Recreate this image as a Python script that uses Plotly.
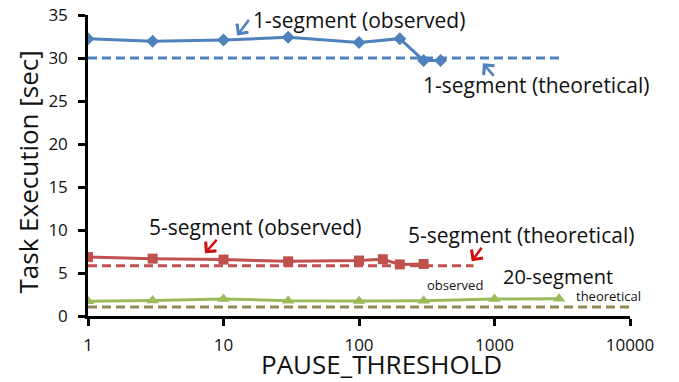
import plotly.graph_objects as go

# Data
x_seg1 = [1, 3, 10, 30, 100, 200, 300, 400]
y_seg1 = [32.25, 31.95, 32.1, 32.4, 31.8, 32.25, 29.7, 29.7]
x_seg1_theo = [1, 3000]
y_seg1_theo = [30, 30]

x_seg5 = [1, 3, 10, 30, 100, 150, 200, 300]
y_seg5 = [6.85, 6.67, 6.56, 6.36, 6.45, 6.6, 6.0, 6.05]
x_seg5_theo = [1, 700]
y_seg5_theo = [5.85, 5.85]

x_seg20 = [1, 3, 10, 30, 100, 300, 1000, 3000]
y_seg20 = [1.72, 1.8, 1.98, 1.78, 1.75, 1.78, 1.98, 2.0]
x_seg20_theo = [1, 10000]
y_seg20_theo = [1.05, 1.05]

x_ticks = [1, 10, 100, 1000, 10000]
x_tick_labels = ["1", "10", "100", "1000", "10000"]
y_ticks = [0, 5, 10, 15, 20, 25, 30, 35]

BLUE = "#4F81BD"
RED = "#C0504D"
GREEN = "#9BBB59"
OLIVE = "#948A54"
ARROW_RED = "#D01010"
FONT = "Open Sans"
DASH = "9px,5px"

# page offset (body margin) compensation
OFF = 8
L, R, T, B = 88 - OFF, 679 - 630 + OFF, 15 - OFF, 382 - 316 + OFF
PW, PH = 679 - L - R, 382 - T - B

fig = go.Figure()
fig.add_trace(go.Scatter(x=x_seg1_theo, y=y_seg1_theo, mode="lines",
                         line=dict(color=BLUE, width=3, dash=DASH)))
fig.add_trace(go.Scatter(x=x_seg1, y=y_seg1, mode="lines+markers",
                         line=dict(color=BLUE, width=3),
                         marker=dict(symbol="diamond", size=10, color=BLUE)))
fig.add_trace(go.Scatter(x=x_seg5_theo, y=y_seg5_theo, mode="lines",
                         line=dict(color=RED, width=3, dash=DASH)))
fig.add_trace(go.Scatter(x=x_seg5, y=y_seg5, mode="lines+markers",
                         line=dict(color=RED, width=3),
                         marker=dict(symbol="square", size=10, color=RED)))
fig.add_trace(go.Scatter(x=x_seg20_theo, y=y_seg20_theo, mode="lines",
                         line=dict(color=OLIVE, width=3, dash=DASH)))
fig.add_trace(go.Scatter(x=x_seg20, y=y_seg20, mode="lines+markers",
                         line=dict(color=GREEN, width=3),
                         marker=dict(symbol="triangle-up", size=11, color=GREEN)))

annotations = []

def text_ann(text, x, y, size):
    annotations.append(dict(text=text, x=x, y=y, xref="x", yref="y",
                            xanchor="left", yanchor="middle", showarrow=False,
                            borderpad=0,
                            font=dict(family=FONT, size=size, color="#111111")))

def arrow_ann(x, y, ax, ay, color):
    annotations.append(dict(text="", x=x, y=y, xref="x", yref="y",
                            ax=ax, ay=ay, showarrow=True, arrowhead=4,
                            arrowsize=1.1, arrowwidth=2.5, arrowcolor=color,
                            standoff=0))

text_ann("1-segment (observed)", 1.21, 34.45, 21)
text_ann("1-segment (theoretical)", 2.465, 26.9, 21)
text_ann("5-segment (observed)", 0.443, 10.35, 21)
text_ann("5-segment (theoretical)", 2.354, 9.38, 21)
text_ann("observed", 2.494, 3.57, 13)
text_ann("20-segment", 3.055, 4.6, 20)
text_ann("theoretical", 3.594, 2.33, 13)

arrow_ann(1.1, 32.63, 13, -17, BLUE)
arrow_ann(2.915, 29.38, 12, 14, BLUE)
arrow_ann(0.863, 7.29, 13, -15, ARROW_RED)
arrow_ann(2.832, 6.36, 11, -15, ARROW_RED)

# axis titles (positions in screen pixels converted to paper coords)
def px_to_paper(px, py):
    return (px - OFF - L) / PW, (382 - B - (py - OFF)) / PH

tx, ty = px_to_paper(27, 172.5)
annotations.append(dict(text="Task Execution [sec]", xref="paper", yref="paper",
                        x=tx, y=ty, textangle=-90, borderpad=0,
                        xanchor="center", yanchor="middle", showarrow=False,
                        font=dict(family=FONT, size=26, color="#111111")))
tx, ty = px_to_paper(381, 364)
annotations.append(dict(text="PAUSE_THRESHOLD", xref="paper", yref="paper",
                        x=tx, y=ty, borderpad=0,
                        xanchor="center", yanchor="middle", showarrow=False,
                        font=dict(family=FONT, size=26, color="#111111")))

fig.update_layout(
    width=679, height=382,
    margin=dict(l=L, r=R, t=T, b=B, autoexpand=False),
    paper_bgcolor="white", plot_bgcolor="white",
    showlegend=False,
    font=dict(family=FONT, color="#111111"),
    annotations=annotations,
)
fig.update_xaxes(type="log", range=[0, 4], tickvals=x_ticks, ticktext=x_tick_labels,
                 showline=True, linecolor="black", linewidth=2.5, ticks="outside",
                 ticklen=7, tickwidth=2.5, tickcolor="black", showgrid=False,
                 zeroline=False, automargin=False, ticklabelstandoff=5,
                 ticklabeloverflow="allow",
                 tickfont=dict(family=FONT, size=17, color="#111111"))
fig.update_yaxes(range=[0, 35], tickvals=y_ticks, showline=True, linecolor="black",
                 linewidth=2.5, ticks="outside", ticklen=7, tickwidth=2.5,
                 tickcolor="black", showgrid=False, zeroline=False, automargin=False,
                 ticklabelstandoff=7, ticklabeloverflow="allow",
                 tickfont=dict(family=FONT, size=17, color="#111111"))

fig.write_html("out.html")
